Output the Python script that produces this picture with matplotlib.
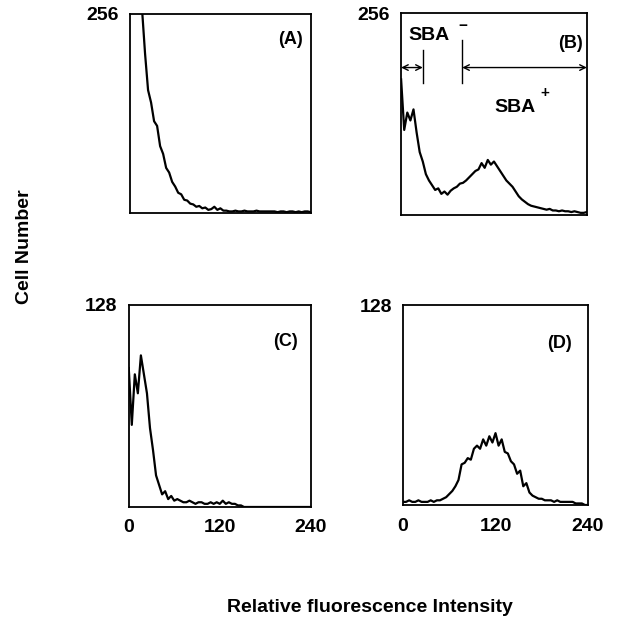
import numpy as np
import matplotlib
matplotlib.use("Agg")
import matplotlib.pyplot as plt

plt.rcParams['font.family'] = ['Liberation Sans', 'DejaVu Sans']
plt.rcParams['font.weight'] = 'bold'

# channel step of the histograms (relative fluorescence units)
step = 4

# cell counts per channel
cells_a = [420, 390, 350, 310, 262, 205, 158, 142, 118, 112, 86, 76, 58, 52, 40, 34,
           26, 24, 17, 16, 12, 11, 8, 9, 6, 7, 4, 5, 8, 4, 6, 3, 3, 2, 2, 3,
           2, 2, 3, 2, 2, 2, 3, 2, 2, 2, 2, 2, 2, 1, 2, 2, 1, 2, 2, 1,
           2, 1, 2, 2, 1]
cells_b = [172, 108, 130, 120, 134, 105, 80, 68, 52, 44, 38, 32, 34, 27, 30, 26,
           31, 34, 36, 40, 41, 44, 48, 52, 56, 58, 66, 60, 70, 64, 68, 62,
           56, 50, 44, 40, 36, 30, 24, 20, 17, 14, 12, 11, 10, 9, 8, 7,
           8, 6, 6, 5, 6, 5, 5, 4, 5, 4, 3, 3, 4]
cells_c = [88, 52, 84, 72, 96, 84, 72, 50, 36, 20, 14, 8, 10, 5, 7, 4,
           5, 4, 3, 3, 4, 3, 2, 3, 3, 2, 2, 3, 2, 3, 2, 4,
           2, 3, 2, 2, 1, 1, 0, 0, 0, 0, 0, 0, 0, 0, 0, 0,
           0, 0, 0, 0, 0, 0, 0, 0, 0, 0, 0, 0, 0]
cells_d = [2, 2, 3, 2, 2, 3, 2, 2, 2, 3, 2, 3, 3, 4, 5, 7,
           9, 12, 16, 26, 27, 30, 29, 36, 38, 36, 42, 38, 44, 40, 46, 38,
           42, 34, 33, 28, 26, 20, 22, 12, 14, 8, 6, 5, 4, 4, 3, 3,
           3, 2, 3, 2, 2, 2, 2, 2, 1, 1, 1, 0, 0]

panels = ["(A)", "(B)", "(C)", "(D)"]
ymax = [256, 256, 128, 128]
xticks = [0, 120, 240]

# gates in panel B
gate_neg = (0, 28)
gate_pos = (79, 240)

fig = plt.figure(figsize=(6.19, 6.22), dpi=100)
rects = [[0.210, 0.6576, 0.292, 0.320],
         [0.648, 0.6540, 0.300, 0.325],
         [0.208, 0.1849, 0.294, 0.325],
         [0.651, 0.1881, 0.299, 0.3215]]
label_pos = [(0.956, 0.874), (0.978, 0.85), (0.929, 0.817), (0.914, 0.81)]

for i, (data, rect) in enumerate(zip([cells_a, cells_b, cells_c, cells_d], rects)):
    ax = fig.add_axes(rect)
    x = step * np.arange(len(data))
    ax.plot(x, data, color='black', lw=1.6)
    ax.set_xlim(0, 240)
    ax.set_ylim(0, ymax[i])
    for s in ax.spines.values():
        s.set_linewidth(1.3)
    ax.set_yticks([ymax[i]])
    ax.set_yticklabels([str(ymax[i])], fontsize=14, fontweight='bold')
    ax.tick_params(axis='y', length=0, pad=8)
    if i >= 2:
        ax.set_xticks(xticks)
        ax.set_xticklabels([str(t) for t in xticks], fontsize=14, fontweight='bold')
        ax.tick_params(axis='x', length=0, pad=9)
    else:
        ax.set_xticks([])
    ax.text(label_pos[i][0], label_pos[i][1], panels[i], transform=ax.transAxes,
            ha='right', va='center', fontsize=13, fontweight='bold')
    if i == 1:
        ya = 187
        ax.annotate('', xy=(gate_neg[0], ya), xytext=(gate_neg[1], ya),
                    arrowprops=dict(arrowstyle='<->', color='black', lw=1, shrinkA=0, shrinkB=0))
        ax.annotate('', xy=(gate_pos[0], ya), xytext=(gate_pos[1], ya),
                    arrowprops=dict(arrowstyle='<->', color='black', lw=1, shrinkA=0, shrinkB=0))
        ax.plot([gate_neg[1], gate_neg[1]], [167, 209], color='black', lw=1)
        ax.plot([gate_pos[0], gate_pos[0]], [168, 222], color='black', lw=1)
        ax.text(10, 228, 'SBA', fontsize=14, fontweight='bold', va='center')
        ax.text(74, 239, '\u2212', fontsize=11, fontweight='bold', va='center')
        ax.text(120, 137, 'SBA', fontsize=14, fontweight='bold', va='center')
        ax.text(180, 155, '+', fontsize=11, fontweight='bold', va='center')

fig.text(0.040, 0.604, 'Cell Number', rotation=90, ha='center', va='center',
         fontsize=14, fontweight='bold')
fig.text(0.598, 0.024, 'Relative fluorescence Intensity', ha='center', va='center',
         fontsize=14, fontweight='bold')

fig.savefig('out.png', dpi=100)
